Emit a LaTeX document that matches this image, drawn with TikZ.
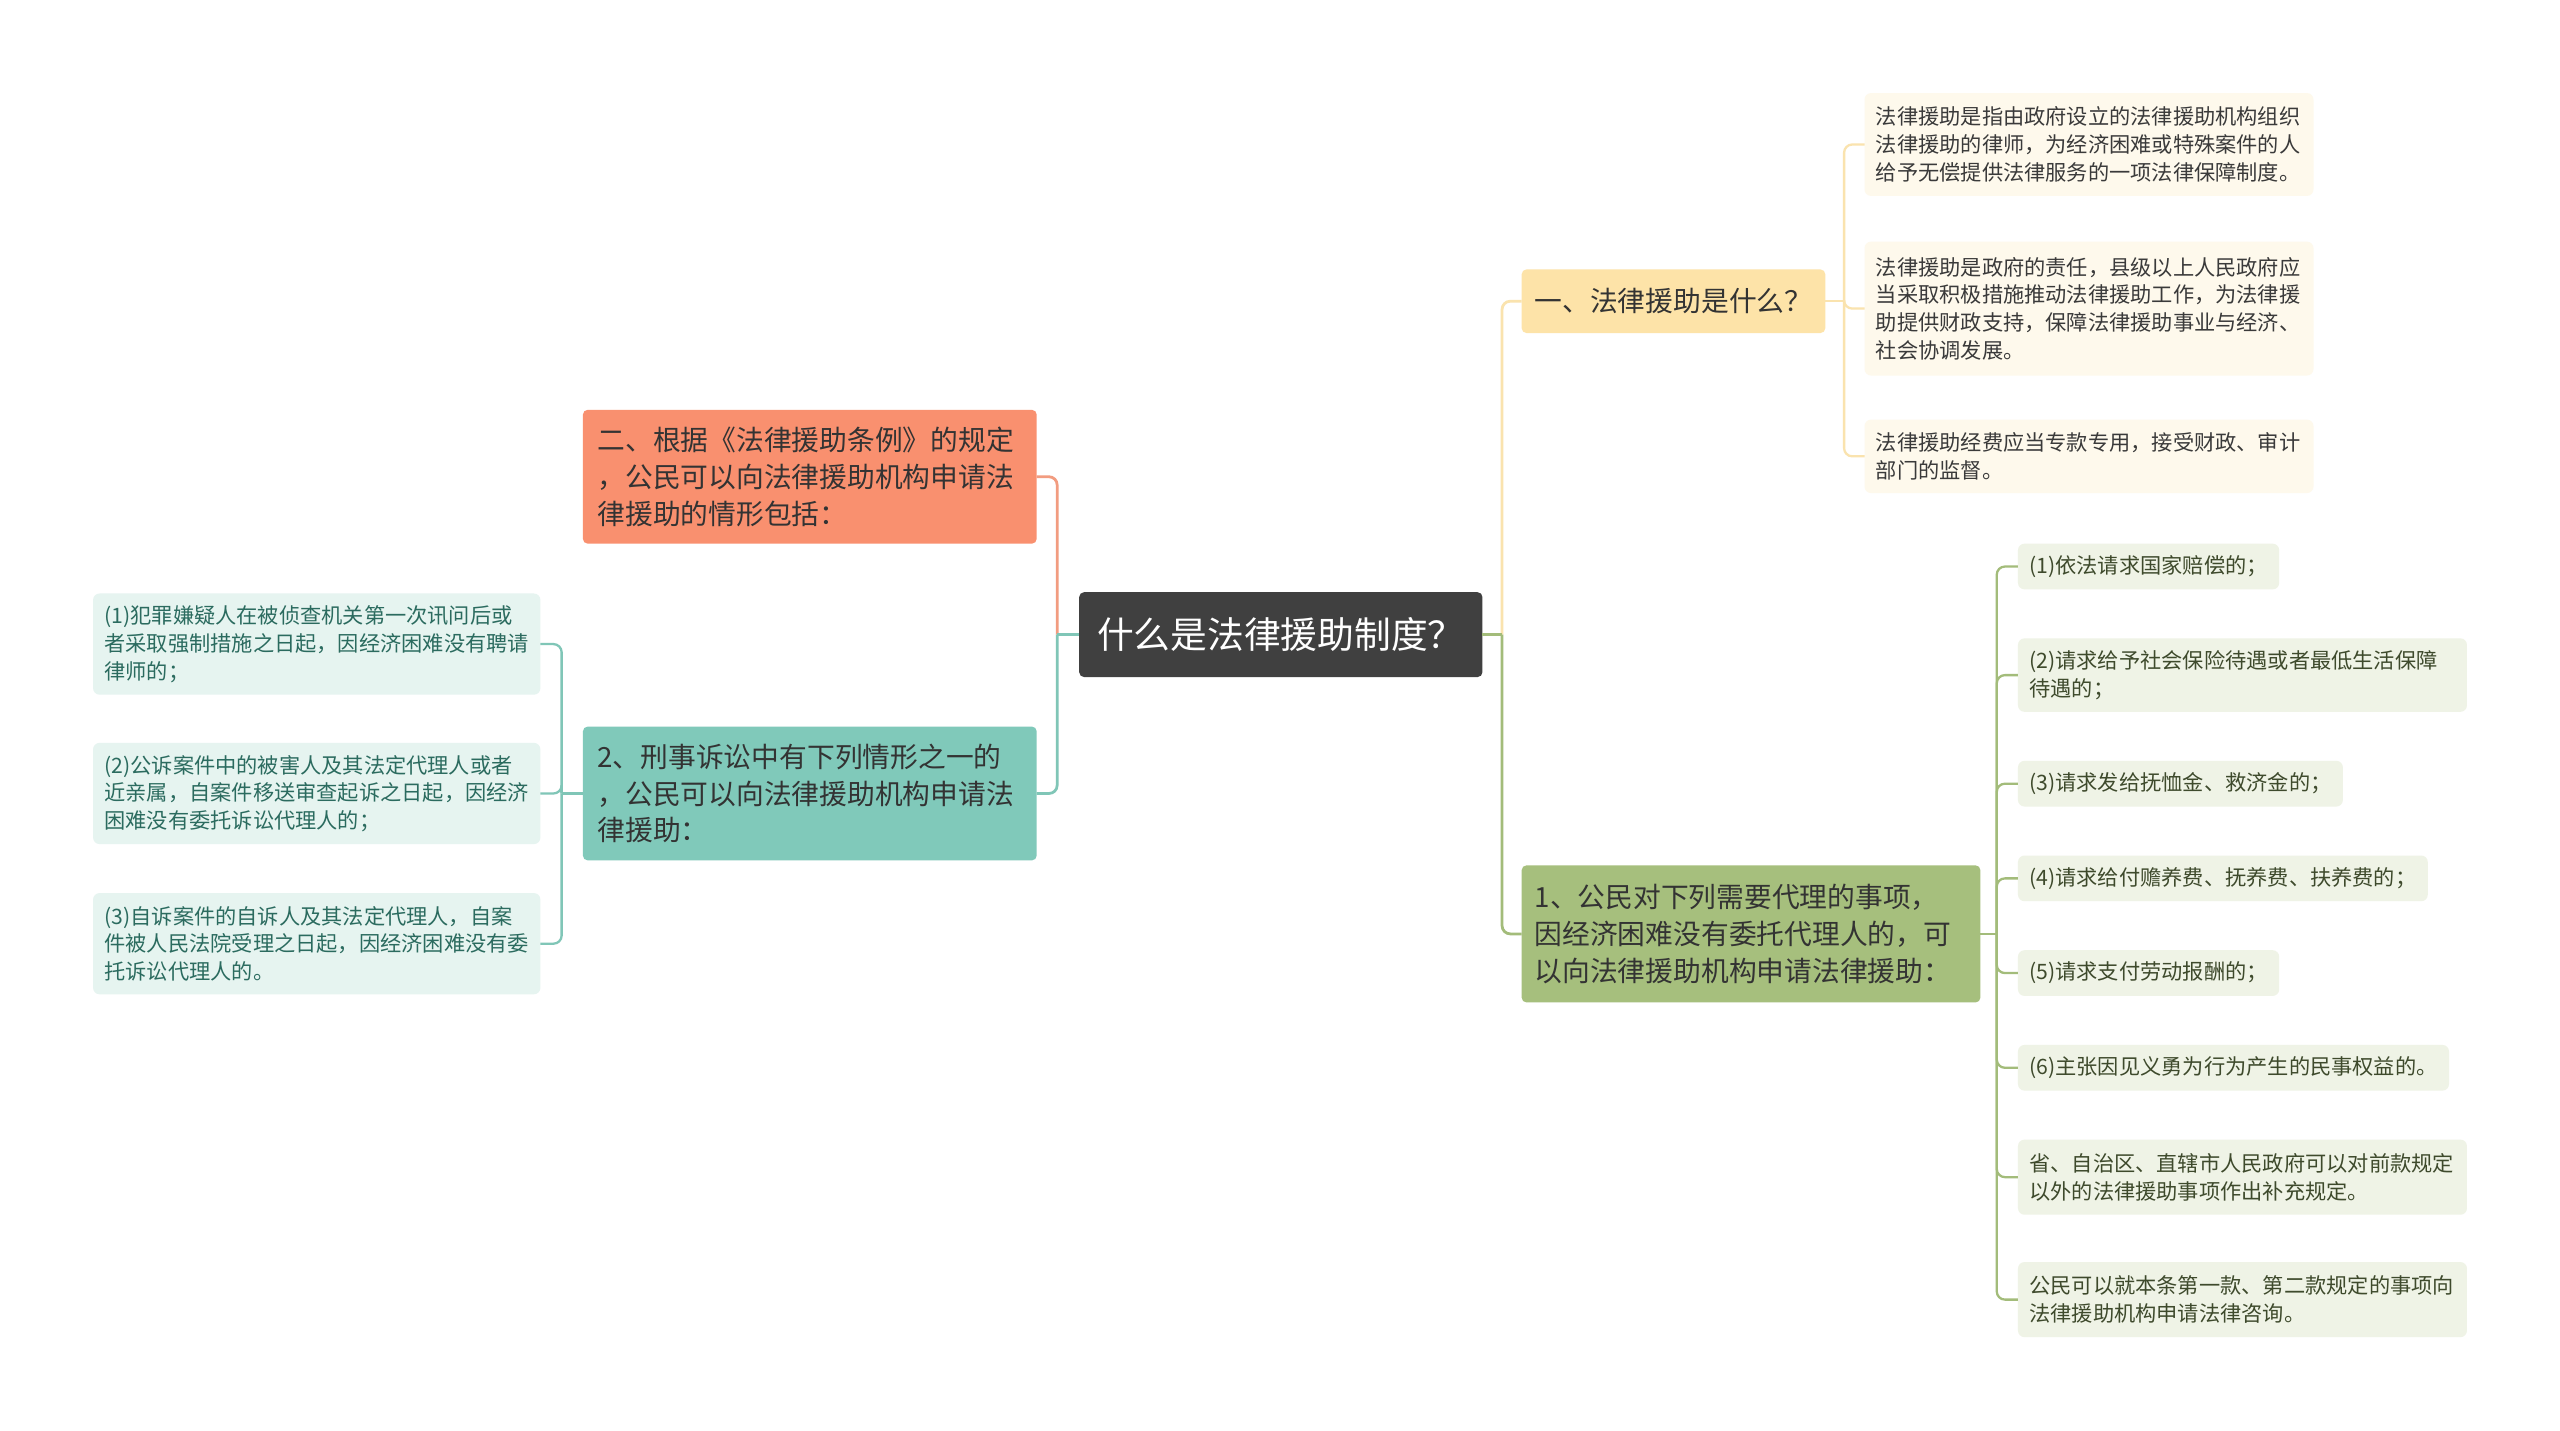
\documentclass[tikz,border=0pt]{standalone}
\usepackage{fontspec}
\setmainfont{Noto Sans CJK SC}
\definecolor{cdark}{HTML}{404040}
\definecolor{corange}{HTML}{F9906F}
\definecolor{cteal}{HTML}{80C9BA}
\definecolor{cyellow}{HTML}{FDE3A8}
\definecolor{cgreen}{HTML}{A6BF7D}
\definecolor{lteal}{HTML}{E6F4F0}
\definecolor{lyellow}{HTML}{FEF9EC}
\definecolor{lgreen}{HTML}{EFF3E6}
\definecolor{tteal}{HTML}{2B6B5F}
\definecolor{tgreen}{HTML}{3E4A2C}
\definecolor{tyellow}{HTML}{3A3A3A}
\definecolor{tmid}{HTML}{333333}
\definecolor{lnorange}{HTML}{F29C80}
\definecolor{lnteal}{HTML}{80C6B7}
\definecolor{lnyellow}{HTML}{FAE3AE}
\definecolor{lngreen}{HTML}{A3BC7A}
\begin{document}
\begin{tikzpicture}[x=1pt,y=-1pt,
  every node/.style={inner ysep=0pt, outer sep=0pt},
  rootbox/.style={fill=cdark, rounded corners=3pt, text=white, inner xsep=11pt,
    font=\fontsize{22.5}{27}\selectfont, align=left, anchor=west},
  midbox/.style={rounded corners=3pt, text=tmid, inner xsep=9pt,
    font=\fontsize{17}{22.5}\selectfont, align=left, anchor=west},
  leafbox/.style={rounded corners=4pt, inner xsep=7pt,
    font=\fontsize{13}{17}\selectfont, align=left},
  leafY/.style={leafbox, fill=lyellow, text=tyellow, anchor=west},
  leafT/.style={leafbox, fill=lteal, text=tteal, anchor=east},
  leafG/.style={leafbox, fill=lgreen, text=tgreen, anchor=west},
  conn/.style={line width=1.7pt, rounded corners=5pt},
  lconn/.style={line width=1.4pt, rounded corners=5pt}
]
\useasboundingbox (0,0) rectangle (1568,876);
\fill[white] (0,0) rectangle (1568,876);

% root
\node[rootbox, text width=225pt, minimum height=52pt] (c) at (661,388.7) {什么是法律援助制度？};

% main branches
\node[midbox, fill=corange, text width=260pt, minimum height=82pt] (o) at (357,292)
  {二、根据《法律援助条例》的规定\\，公民可以向法律援助机构申请法\\律援助的情形包括：};
\node[midbox, fill=cteal, text width=260pt, minimum height=82pt] (t) at (357,486)
  {2、刑事诉讼中有下列情形之一的\\，公民可以向法律援助机构申请法\\律援助：};
\node[midbox, fill=cyellow, inner xsep=8pt, text width=170pt, minimum height=39pt] (y) at (932,184.5)
  {一、法律援助是什么？};
\node[midbox, fill=cgreen, inner xsep=8pt, text width=265pt, minimum height=84pt] (g) at (932,572)
  {1、公民对下列需要代理的事项，\\因经济困难没有委托代理人的，可\\以向法律援助机构申请法律援助：};

% yellow leaves
\node[leafY, text width=261pt, minimum height=63pt] (r1) at (1142,88.5)
  {法律援助是指由政府设立的法律援助机构组织\\法律援助的律师，为经济困难或特殊案件的人\\给予无偿提供法律服务的一项法律保障制度。};
\node[leafY, text width=261pt, minimum height=82pt] (r2) at (1142,189)
  {法律援助是政府的责任，县级以上人民政府应\\当采取积极措施推动法律援助工作，为法律援\\助提供财政支持，保障法律援助事业与经济、\\社会协调发展。};
\node[leafY, text width=261pt, minimum height=45pt] (r3) at (1142,279.5)
  {法律援助经费应当专款专用，接受财政、审计\\部门的监督。};

% teal leaves
\node[leafT, text width=260pt, minimum height=62pt] (l1) at (331,394.5)
  {(1)犯罪嫌疑人在被侦查机关第一次讯问后或\\者采取强制措施之日起，因经济困难没有聘请\\律师的；};
\node[leafT, text width=260pt, minimum height=62pt] (l2) at (331,486)
  {(2)公诉案件中的被害人及其法定代理人或者\\近亲属，自案件移送审查起诉之日起，因经济\\困难没有委托诉讼代理人的；};
\node[leafT, text width=260pt, minimum height=62pt] (l3) at (331,578)
  {(3)自诉案件的自诉人及其法定代理人，自案\\件被人民法院受理之日起，因经济困难没有委\\托诉讼代理人的。};

% green leaves
\node[leafG, minimum height=28pt] (g1) at (1236,347) {(1)依法请求国家赔偿的；};
\node[leafG, text width=261pt, minimum height=45pt] (g2) at (1236,413.5)
  {(2)请求给予社会保险待遇或者最低生活保障\\待遇的；};
\node[leafG, minimum height=28pt] (g3) at (1236,480) {(3)请求发给抚恤金、救济金的；};
\node[leafG, minimum height=28pt] (g4) at (1236,538) {(4)请求给付赡养费、抚养费、扶养费的；};
\node[leafG, minimum height=28pt] (g5) at (1236,596) {(5)请求支付劳动报酬的；};
\node[leafG, minimum height=28pt] (g6) at (1236,654) {(6)主张因见义勇为行为产生的民事权益的。};
\node[leafG, text width=261pt, minimum height=46pt] (g7) at (1236,721)
  {省、自治区、直辖市人民政府可以对前款规定\\以外的法律援助事项作出补充规定。};
\node[leafG, text width=261pt, minimum height=46pt] (g8) at (1236,796)
  {公民可以就本条第一款、第二款规定的事项向\\法律援助机构申请法律咨询。};

% junction coordinates
\coordinate (jL) at (647.5,388.7);
\coordinate (jR) at (920,388.7);
\coordinate (jY) at (1129.5,184.5);
\coordinate (jG) at (1223,572);
\coordinate (jT) at (344,486);

% root connectors
\draw[conn, lnorange] (jL) |- (o.east);
\draw[conn, lnteal] (jL) |- (t.east);
\draw[conn, lnteal] (c.west) -- (jL);
\draw[conn, lnyellow] (jR) |- (y.west);
\draw[conn, lngreen] (jR) |- (g.west);
\draw[conn, lngreen] (c.east) -- (jR);

% yellow leaves connectors
\draw[lconn, lnyellow] (y.east) -- (jY);
\foreach \n in {r1,r2,r3} \draw[lconn, lnyellow] (jY) |- (\n.west);

% teal leaves connectors
\draw[lconn, lnteal] (t.west) -- (jT);
\foreach \n in {l1,l2,l3} \draw[lconn, lnteal] (jT) |- (\n.east);

% green leaves connectors
\draw[lconn, lngreen] (g.east) -- (jG);
\foreach \n in {g1,g2,g3,g4,g5,g6,g7,g8} \draw[lconn, lngreen] (jG) |- (\n.west);
\end{tikzpicture}
\end{document}
